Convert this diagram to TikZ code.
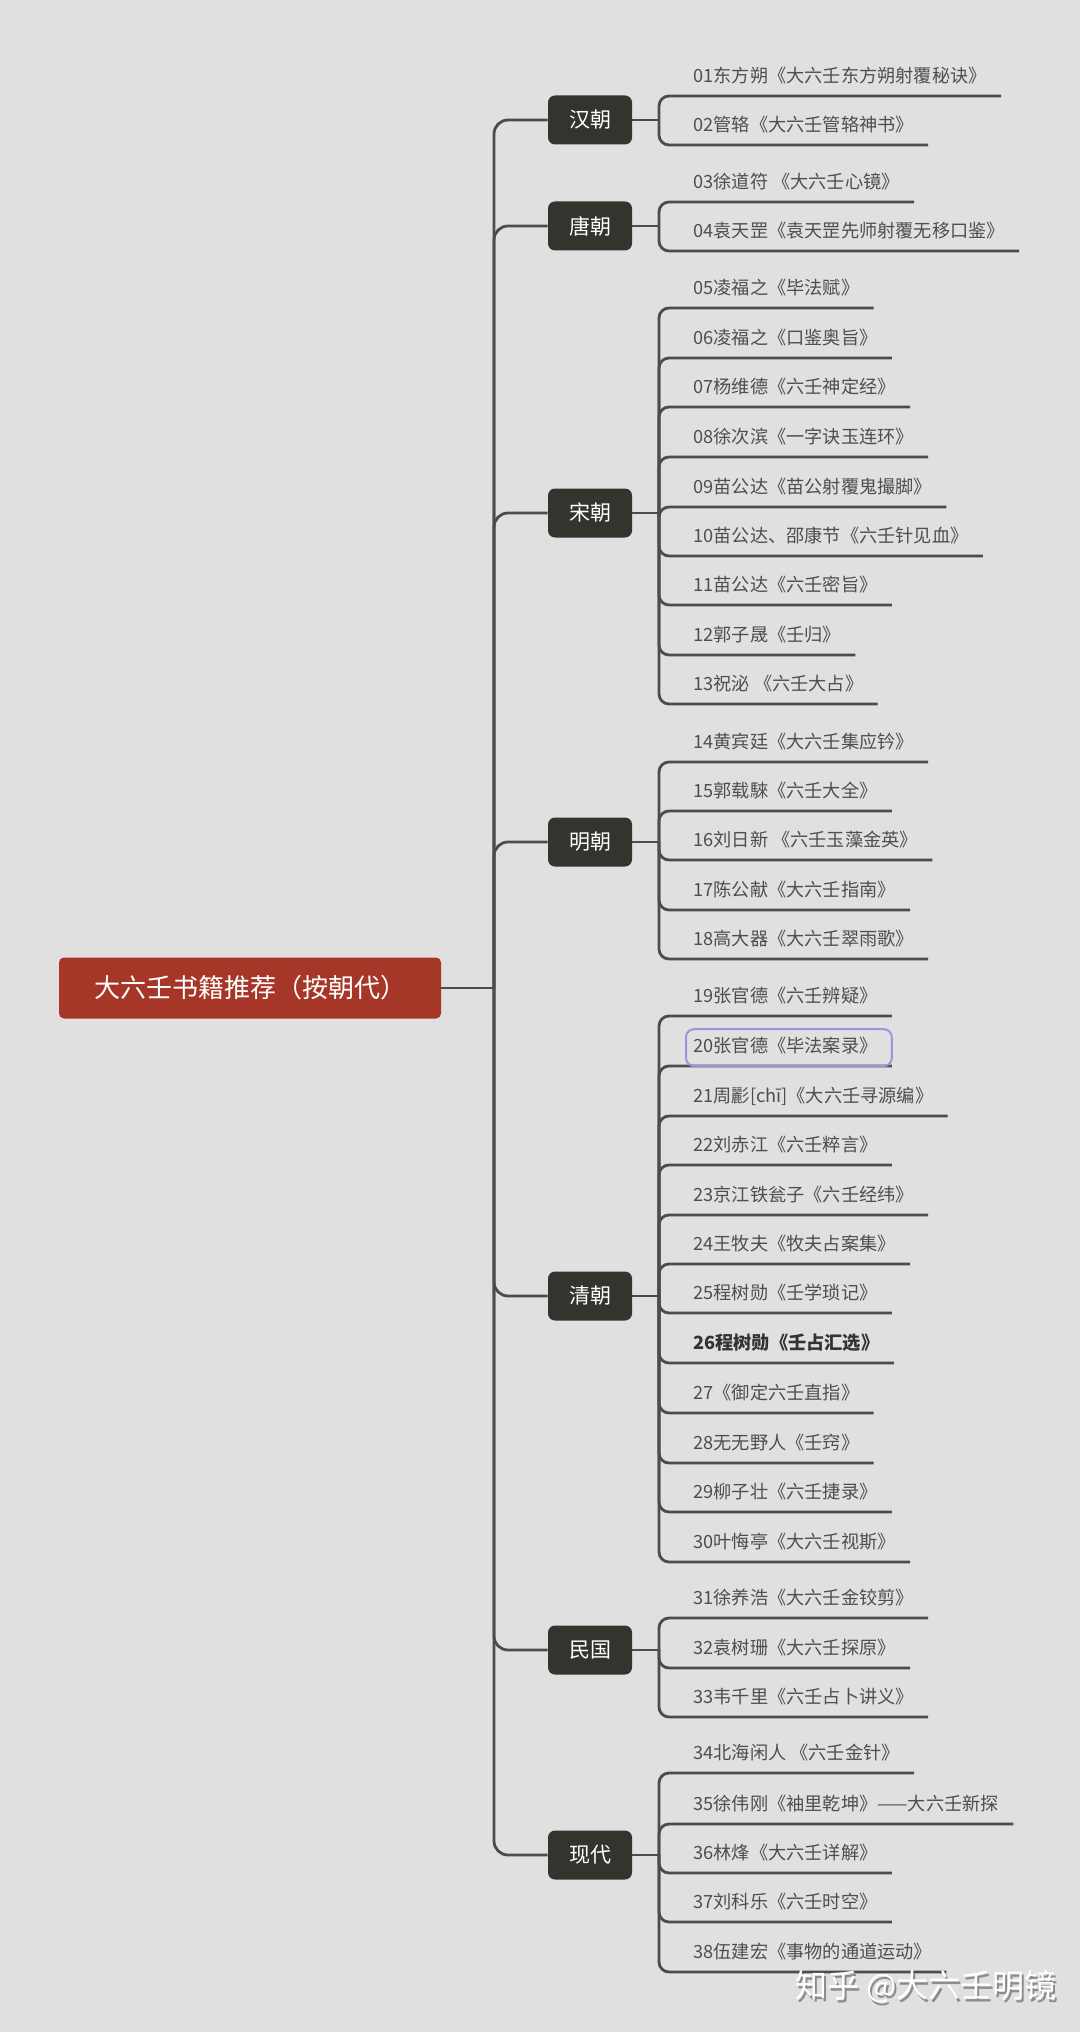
\documentclass[tikz,border=0pt]{standalone}
\usepackage{fontspec}
\setmainfont{Noto Sans CJK SC}
\usepackage{xcolor}
\usepackage{tikz}
\usetikzlibrary{positioning}
\definecolor{mmBack}{RGB}{224,224,224}
\definecolor{mmRoot}{RGB}{166,55,40}
\definecolor{mmDark}{RGB}{52,52,46}
\definecolor{mmLine}{RGB}{76,76,74}
\definecolor{mmText}{RGB}{78,78,78}
\definecolor{mmSel}{RGB}{150,150,225}

\begin{document}
\begin{tikzpicture}[
    x=0.5pt, y=-0.5pt,
    root/.style={fill=mmRoot, text=white, rounded corners=2.5pt,
                 minimum width=191pt, minimum height=30.5pt,
                 font=\fontsize{13}{15}\selectfont},
    dyn/.style={fill=mmDark, text=white, rounded corners=3.5pt,
                minimum width=42pt, minimum height=24.5pt,
                font=\fontsize{10.5}{12}\selectfont},
    leaf/.style={anchor=south west, text=mmText, inner xsep=7pt,
                 inner ysep=4.5pt, text height=7pt, text depth=2pt,
                 font=\fontsize{9.1}{11}\selectfont},
    link/.style={draw=mmLine, line width=1.4pt, rounded corners=5pt},
    trunk/.style={draw=mmLine, line width=1.4pt, rounded corners=7pt},
    sel/.style={draw=mmSel, line width=1pt, rounded corners=4pt},
    wm/.style={anchor=west, font=\fontsize{16}{18}\selectfont}
]
\fill[mmBack] (0,0) rectangle (1080,2032);
\useasboundingbox (0,0) rectangle (1080,2032);

\node[root] (root) at (250,988) {大六壬书籍推荐（按朝代）};
\coordinate (t0) at (494,988);

% dynasties
\node[dyn] (han)   at (590,120)  {汉朝};
\node[dyn] (tang)  at (590,226)  {唐朝};
\node[dyn] (song)  at (590,513)  {宋朝};
\node[dyn] (ming)  at (590,842)  {明朝};
\node[dyn] (qing)  at (590,1296) {清朝};
\node[dyn] (minguo) at (590,1650) {民国};
\node[dyn] (xiandai) at (590,1855) {现代};

\coordinate (sHan)  at (659,120);
\coordinate (sTang) at (659,226);
\coordinate (sSong) at (659,513);
\coordinate (sMing) at (659,842);
\coordinate (sQing) at (659,1296);
\coordinate (sMinguo) at (659,1650);
\coordinate (sXiandai) at (659,1855);

% books
\node[leaf] (l01) at (679,96)   {01东方朔《大六壬东方朔射覆秘诀》};
\node[leaf] (l02) at (679,145)  {02管辂《大六壬管辂神书》};
\node[leaf] (l03) at (679,202)  {03徐道符 《大六壬心镜》};
\node[leaf] (l04) at (679,251)  {04袁天罡《袁天罡先师射覆无移口鉴》};
\node[leaf] (l05) at (679,308)  {05凌福之《毕法赋》};
\node[leaf] (l06) at (679,358)  {06凌福之《口鉴奥旨》};
\node[leaf] (l07) at (679,407)  {07杨维德《六壬神定经》};
\node[leaf] (l08) at (679,457)  {08徐次滨《一字诀玉连环》};
\node[leaf] (l09) at (679,507)  {09苗公达《苗公射覆鬼撮脚》};
\node[leaf] (l10) at (679,556)  {10苗公达、邵康节《六壬针见血》};
\node[leaf] (l11) at (679,605)  {11苗公达《六壬密旨》};
\node[leaf] (l12) at (679,655)  {12郭子晟《壬归》};
\node[leaf] (l13) at (679,704)  {13祝泌 《六壬大占》};
\node[leaf] (l14) at (679,762)  {14黄宾廷《大六壬集应钤》};
\node[leaf] (l15) at (679,811)  {15郭载騋《六壬大全》};
\node[leaf] (l16) at (679,860)  {16刘日新 《六壬玉藻金英》};
\node[leaf] (l17) at (679,910)  {17陈公献《大六壬指南》};
\node[leaf] (l18) at (679,959)  {18高大器《大六壬翠雨歌》};
\node[leaf] (l19) at (679,1016) {19张官德《六壬辨疑》};
\node[leaf] (l20) at (679,1066) {20张官德《毕法案录》};
\node[leaf] (l21) at (679,1116) {21周彲[chī]《大六壬寻源编》};
\node[leaf] (l22) at (679,1165) {22刘赤江《六壬粹言》};
\node[leaf] (l23) at (679,1215) {23京江铁瓮子《六壬经纬》};
\node[leaf] (l24) at (679,1264) {24王牧夫《牧夫占案集》};
\node[leaf] (l25) at (679,1313) {25程树勋《壬学琐记》};
\node[leaf, text=black!80] (l26) at (679,1363) {\bfseries 26程树勋《壬占汇选》};
\node[leaf] (l27) at (679,1413) {27《御定六壬直指》};
\node[leaf] (l28) at (679,1463) {28无无野人《壬窍》};
\node[leaf] (l29) at (679,1512) {29柳子壮《六壬捷录》};
\node[leaf] (l30) at (679,1562) {30叶悔亭《大六壬视斯》};
\node[leaf] (l31) at (679,1618) {31徐养浩《大六壬金铰剪》};
\node[leaf] (l32) at (679,1668) {32袁树珊《大六壬探原》};
\node[leaf] (l33) at (679,1717) {33韦千里《六壬占卜讲义》};
\node[leaf] (l34) at (679,1773) {34北海闲人 《六壬金针》};
\node[leaf] (l35) at (679,1824) {35徐伟刚《袖里乾坤》——大六壬新探};
\node[leaf] (l36) at (679,1873) {36林烽《大六壬详解》};
\node[leaf] (l37) at (679,1922) {37刘科乐《六壬时空》};
\node[leaf] (l38) at (679,1972) {38伍建宏《事物的通道运动》};

% trunk
\draw[trunk] (root.east) -- (t0);
\draw[trunk] (t0) |- (han.west);
\draw[trunk] (t0) |- (tang.west);
\draw[trunk] (t0) |- (song.west);
\draw[trunk] (t0) |- (ming.west);
\draw[trunk] (t0) |- (qing.west);
\draw[trunk] (t0) |- (minguo.west);
\draw[trunk] (t0) |- (xiandai.west);

% branches
\draw[link] (han.east) -- (sHan);
\draw[link] (sHan) |- (l01.south east);
\draw[link] (sHan) |- (l02.south east);

\draw[link] (tang.east) -- (sTang);
\draw[link] (sTang) |- (l03.south east);
\draw[link] (sTang) |- (l04.south east);

\draw[link] (song.east) -- (sSong);
\draw[link] (sSong) |- (l05.south east);
\draw[link] (sSong) |- (l06.south east);
\draw[link] (sSong) |- (l07.south east);
\draw[link] (sSong) |- (l08.south east);
\draw[link] (sSong) |- (l09.south east);
\draw[link] (sSong) |- (l10.south east);
\draw[link] (sSong) |- (l11.south east);
\draw[link] (sSong) |- (l12.south east);
\draw[link] (sSong) |- (l13.south east);

\draw[link] (ming.east) -- (sMing);
\draw[link] (sMing) |- (l14.south east);
\draw[link] (sMing) |- (l15.south east);
\draw[link] (sMing) |- (l16.south east);
\draw[link] (sMing) |- (l17.south east);
\draw[link] (sMing) |- (l18.south east);

\draw[link] (qing.east) -- (sQing);
\draw[link] (sQing) |- (l19.south east);
\draw[link] (sQing) |- (l20.south east);
\draw[link] (sQing) |- (l21.south east);
\draw[link] (sQing) |- (l22.south east);
\draw[link] (sQing) |- (l23.south east);
\draw[link] (sQing) |- (l24.south east);
\draw[link] (sQing) |- (l25.south east);
\draw[link] (sQing) |- (l26.south east);
\draw[link] (sQing) |- (l27.south east);
\draw[link] (sQing) |- (l28.south east);
\draw[link] (sQing) |- (l29.south east);
\draw[link] (sQing) |- (l30.south east);

\draw[link] (minguo.east) -- (sMinguo);
\draw[link] (sMinguo) |- (l31.south east);
\draw[link] (sMinguo) |- (l32.south east);
\draw[link] (sMinguo) |- (l33.south east);

\draw[link] (xiandai.east) -- (sXiandai);
\draw[link] (sXiandai) |- (l34.south east);
\draw[link] (sXiandai) |- (l35.south east);
\draw[link] (sXiandai) |- (l36.south east);
\draw[link] (sXiandai) |- (l37.south east);
\draw[link] (sXiandai) |- (l38.south east);

% selection frame round 20
\draw[sel] ([xshift=3.5pt]l20.south west) rectangle (l20.north east);

% watermark
\node[wm, text=black!45] (wmShadow) at (790,1990) {知乎 @大六壬明镜};
\node[wm, text=white] (wmText) at (788,1987) {知乎 @大六壬明镜};
\end{tikzpicture}
\end{document}
